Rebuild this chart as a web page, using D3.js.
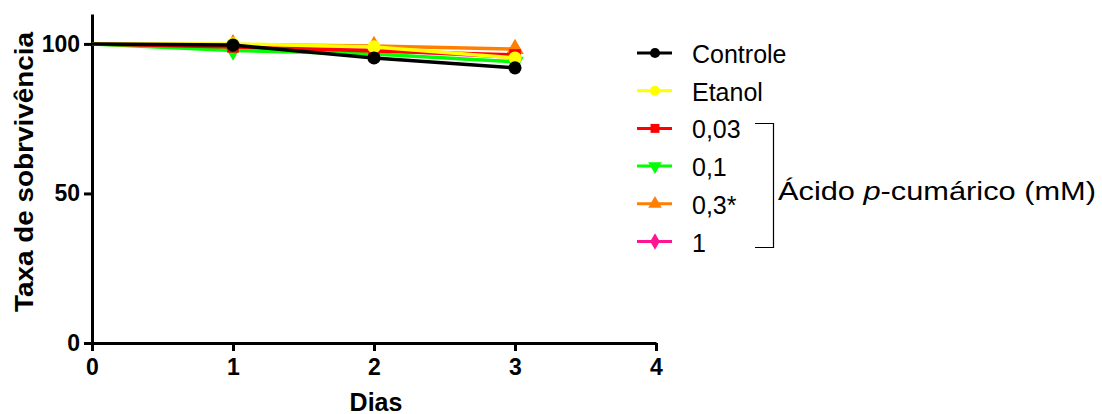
<!DOCTYPE html>
<html>
<head>
<meta charset="utf-8">
<script src="https://cdn.jsdelivr.net/npm/d3@7"></script>
<style>
  html, body { margin: 0; padding: 0; background: #fff; overflow: hidden; }
  svg { display: block; font-family: "Liberation Sans", Arial, sans-serif; }
</style>
</head>
<body>
<div id="plot"></div>
<script>
// Width and height
const w = 1102;
const h = 414;
const margin = {top: 14, right: 446, bottom: 71, left: 92};
const innerWidth = w - margin.left - margin.right;
const innerHeight = h - margin.top - margin.bottom;

// data
const days = [0, 1, 2, 3];
const seriesNames = ["Controle", "Etanol", "0,03", "0,1", "0,3*", "1"];
const seriesColors = ["#000000", "#ffff00", "#ff0000", "#00ff00", "#ff7f00", "#ff1493"];
const seriesSymbols = ["circle", "circle", "square", "triangleDown", "triangleUp", "diamond"];
const controle = [100, 99.6, 95.3, 92];
const etanol = [100, 100, 99, 95.3];
const acido003 = [100, 99, 97.6, 96.3];
const acido01 = [100, 97.8, 96.6, 94];
const acido03 = [100, 99.8, 99.3, 98.3];
const acido1 = [100, 99.5, 98, 95.5];
const xTicks = [0, 1, 2, 3, 4];
const yTicks = [0, 50, 100];

const allValues = [controle, etanol, acido003, acido01, acido03, acido1];

const svg = d3.select("div#plot")
  .append("svg")
    .attr("width", w)
    .attr("height", h);

const g = svg.append("g")
  .attr("id", "plot")
  .attr("transform", `translate(${margin.left}, ${margin.top})`);

const xScale = d3.scaleLinear()
  .domain([0, 4])
  .range([0, innerWidth]);

const yScale = d3.scaleLinear()
  .domain([0, 110])
  .range([innerHeight, 0]);

const xAxis = d3.axisBottom(xScale)
  .tickValues(xTicks)
  .tickFormat(d3.format("d"))
  .tickSize(8)
  .tickSizeOuter(0)
  .tickPadding(8);

const yAxis = d3.axisLeft(yScale)
  .tickValues(yTicks)
  .tickFormat(d3.format("d"))
  .tickSize(8)
  .tickSizeOuter(0)
  .tickPadding(4);

// style an axis group like the original
function styleAxis(sel) {
  sel.attr("font-family", "Liberation Sans, Arial, sans-serif")
    .attr("font-size", 23)
    .attr("font-weight", "bold");
  sel.selectAll("path, line")
    .attr("stroke", "#000")
    .attr("stroke-width", 3);
  sel.selectAll("text").attr("fill", "#000");
}

g.append("g")
  .attr("transform", `translate(0, ${innerHeight})`)
  .call(xAxis)
  .call(styleAxis);

g.append("g")
  .call(yAxis)
  .call(styleAxis);

// symbol helper
function symbolFor(name, size) {
  const map = {
    circle: d3.symbolCircle,
    square: d3.symbolSquare,
    triangleUp: d3.symbolTriangle,
    diamond: d3.symbolDiamond
  };
  if (name === "triangleDown") {
    return {path: d3.symbol(d3.symbolTriangle, size)(), rotate: 180};
  }
  return {path: d3.symbol(map[name], size)(), rotate: 0};
}

const line = d3.line()
  .x((d, i) => xScale(days[i]))
  .y(d => yScale(d));

// draw last series first so Controle ends on top
const order = [5, 4, 3, 2, 1, 0];
order.forEach(k => {
  const vals = allValues[k];
  g.append("path")
    .datum(vals)
    .attr("fill", "none")
    .attr("stroke", seriesColors[k])
    .attr("stroke-width", 3.5)
    .attr("d", line);
  const sym = symbolFor(seriesSymbols[k], 135);
  // markers are not shown at day 0
  g.selectAll(null)
    .data(vals.map((v, i) => ({v, i})).filter(d => d.i > 0))
    .enter()
    .append("path")
      .attr("d", sym.path)
      .attr("transform", d => `translate(${xScale(days[d.i])}, ${yScale(d.v)}) rotate(${sym.rotate})`)
      .attr("fill", seriesColors[k]);
});

// axis labels
svg.append("text")
  .attr("x", 376)
  .attr("y", 411)
  .attr("text-anchor", "middle")
  .style("font-size", "25px")
  .style("font-weight", "bold")
  .text("Dias");

svg.append("text")
  .attr("transform", "rotate(-90)")
  .attr("x", -172)
  .attr("y", 33)
  .attr("text-anchor", "middle")
  .attr("textLength", 280)
  .attr("lengthAdjust", "spacingAndGlyphs")
  .style("font-size", "25px")
  .style("font-weight", "bold")
  .text("Taxa de sobrvivência");

// legend
const legend = svg.append("g")
  .attr("transform", "translate(637, 53)");
const rowGap = 37.7;

seriesNames.forEach((name, k) => {
  const row = legend.append("g")
    .attr("transform", `translate(0, ${k * rowGap})`);
  row.append("line")
    .attr("x1", 0).attr("x2", 35)
    .attr("y1", 0).attr("y2", 0)
    .attr("stroke", seriesColors[k])
    .attr("stroke-width", 3);
  const sym = symbolFor(seriesSymbols[k], 80);
  row.append("path")
    .attr("d", sym.path)
    .attr("transform", `translate(18, 0) rotate(${sym.rotate})`)
    .attr("fill", seriesColors[k]);
  row.append("text")
    .attr("x", 55)
    .attr("y", 10)
    .style("font-size", "25px")
    .text(name);
});

// bracket for acid group
svg.append("path")
  .attr("d", "M755,123.5H773.5V247.5H755")
  .attr("fill", "none")
  .attr("stroke", "#000")
  .attr("stroke-width", 1.2);

const grp = svg.append("text")
  .attr("x", 778)
  .attr("y", 200)
  .attr("textLength", 318)
  .attr("lengthAdjust", "spacingAndGlyphs")
  .style("font-size", "26px");
grp.append("tspan").text("Ácido ");
grp.append("tspan").style("font-style", "italic").text("p");
grp.append("tspan").text("-cumárico (mM)");
</script>
</body>
</html>
